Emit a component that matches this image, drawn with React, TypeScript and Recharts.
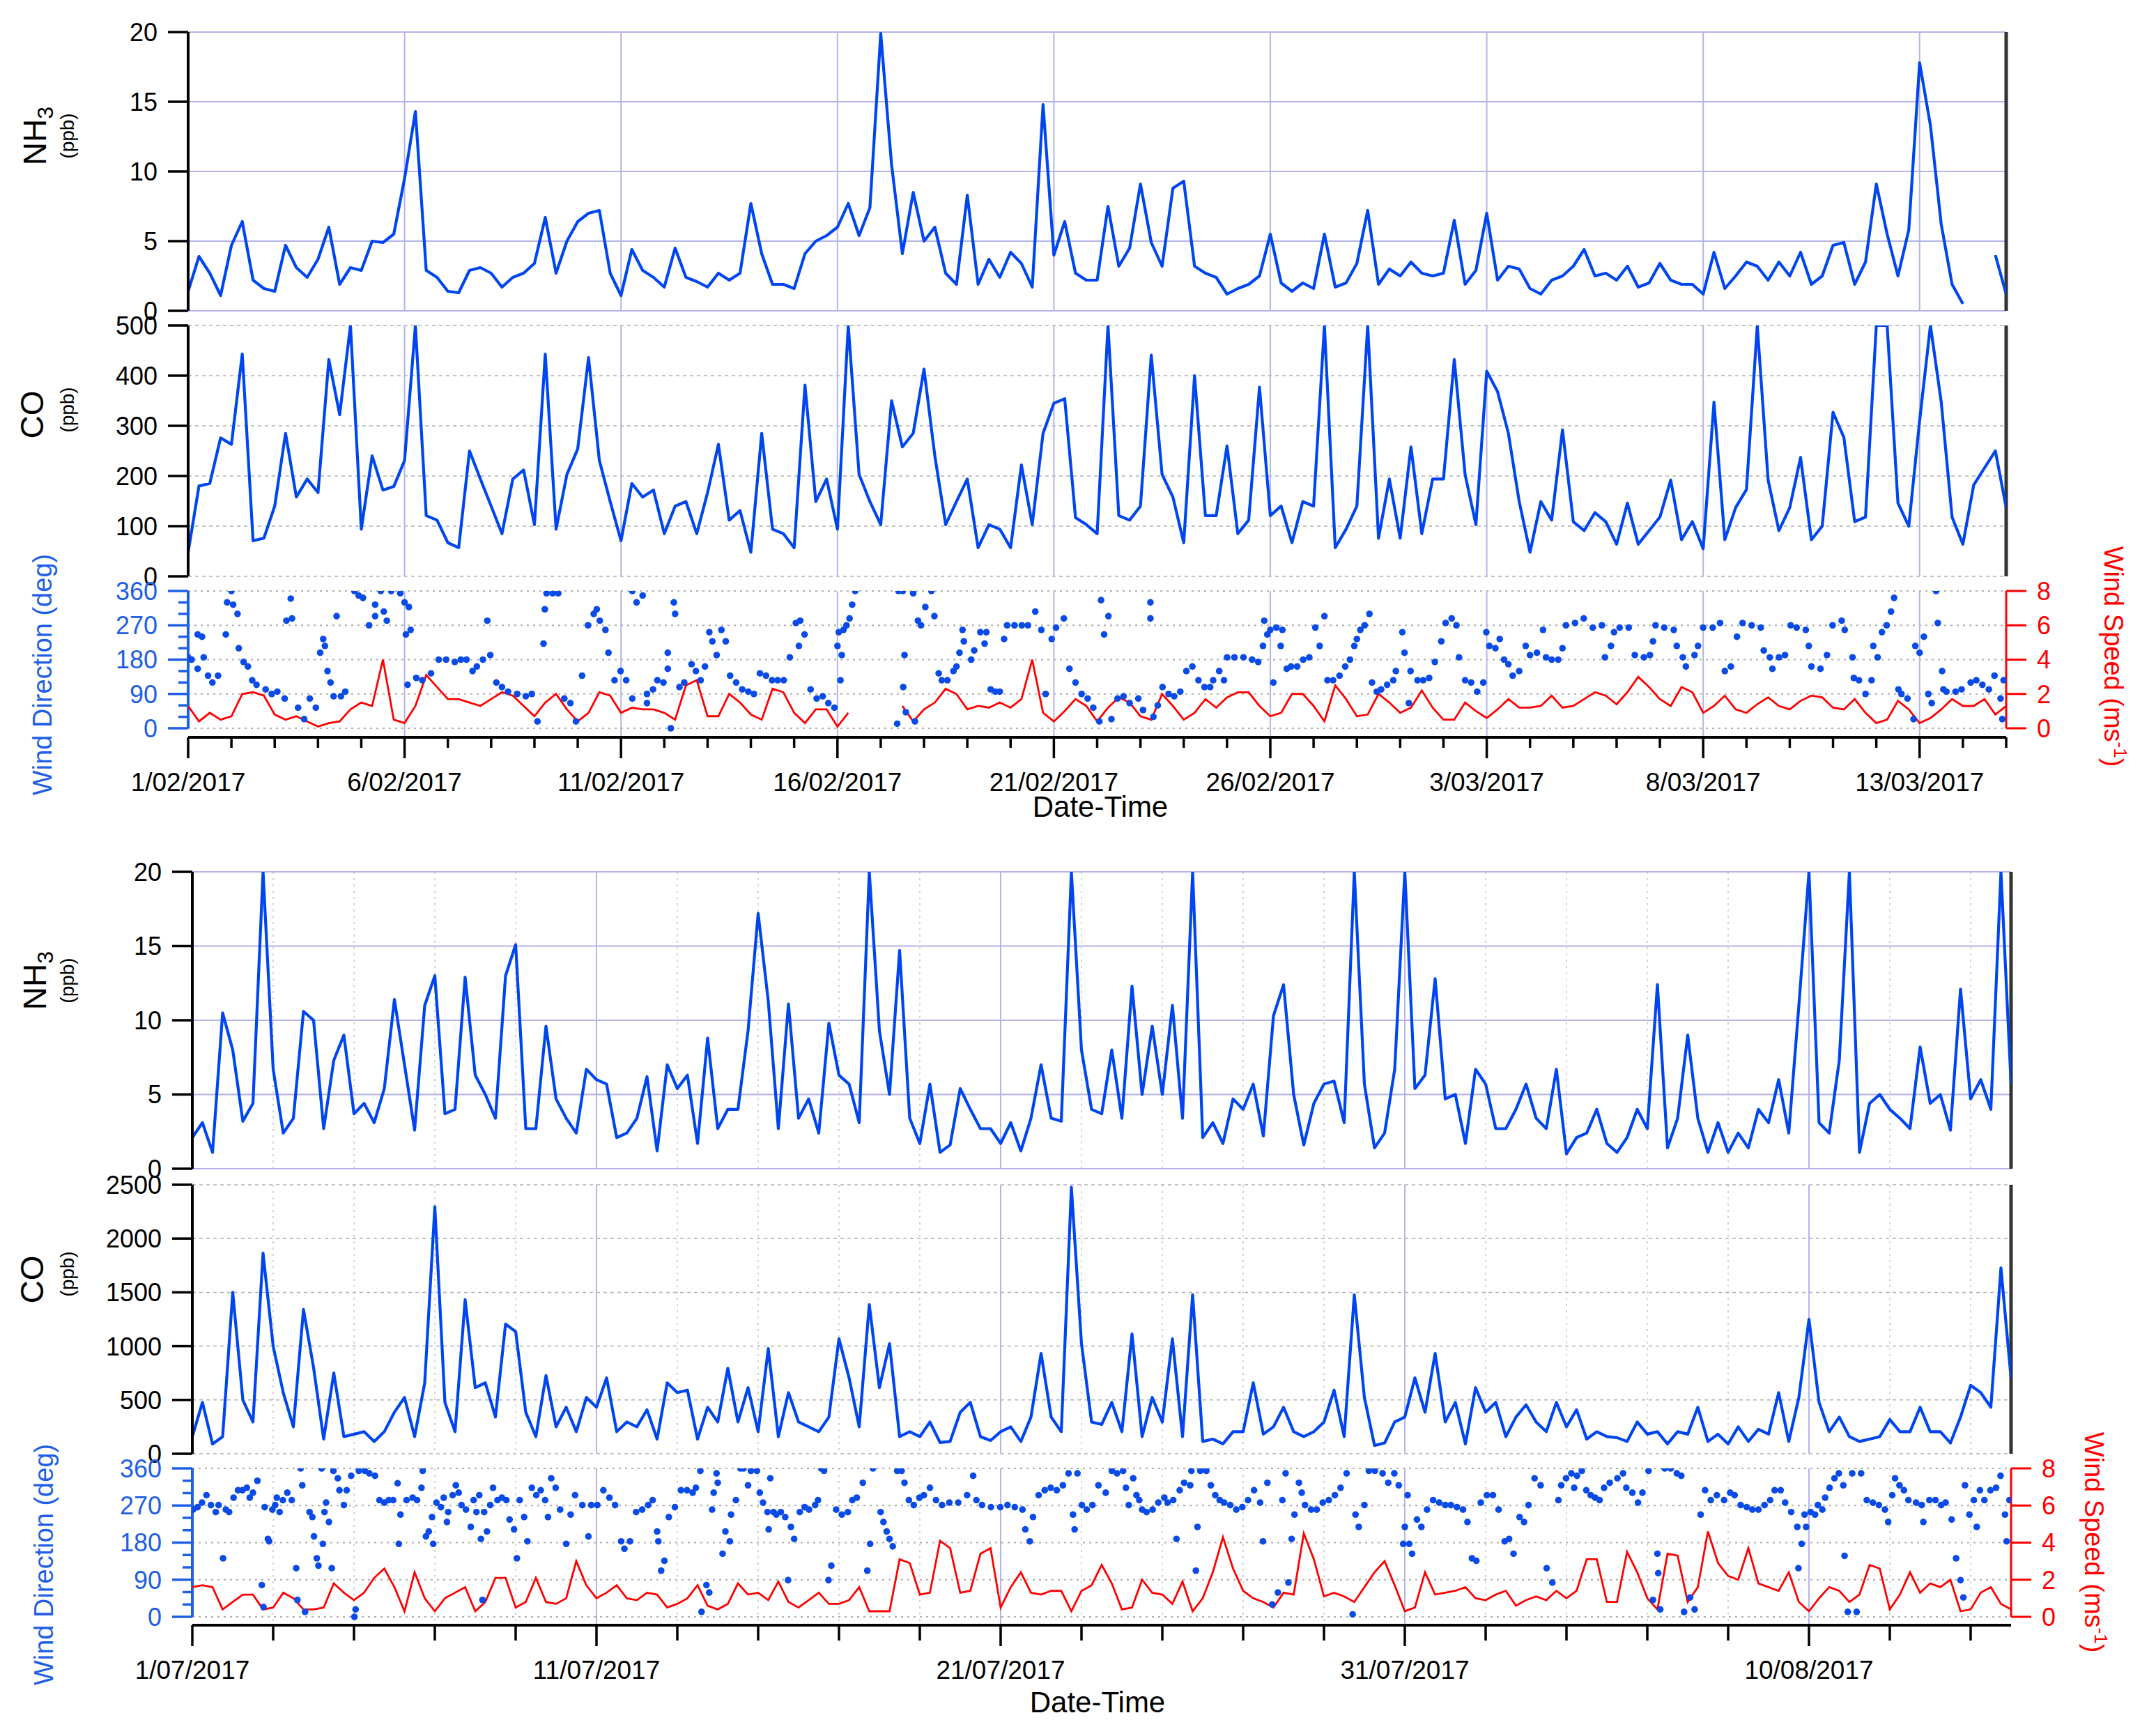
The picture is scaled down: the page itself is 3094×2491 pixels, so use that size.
import React from 'react';
import { ComposedChart, LineChart, Line, Scatter, XAxis, YAxis, CartesianGrid, ReferenceLine } from 'recharts';

// readings every 6 h, day 0 = first day on the axis
const STEP = 0.25;

const FEB_NH3 = [
  1.4, 3.9, 2.7, 1.1, 4.7, 6.4, 2.2, 1.6,
  1.4, 4.7, 3.1, 2.4, 3.7, 6.0, 1.9, 3.1,
  2.9, 5.0, 4.9, 5.5, 9.5, 14.3, 2.9, 2.4,
  1.4, 1.3, 2.9, 3.1, 2.7, 1.7, 2.4, 2.7,
  3.4, 6.7, 2.7, 5.0, 6.4, 7.0, 7.2, 2.7,
  1.1, 4.4, 2.9, 2.4, 1.7, 4.5, 2.4, 2.1,
  1.7, 2.7, 2.2, 2.7, 7.7, 4.1, 1.9, 1.9,
  1.6, 4.1, 5.0, 5.4, 6.0, 7.7, 5.4, 7.4,
  19.9, 10.5, 4.1, 8.5, 5.0, 6.0, 2.7, 1.9,
  8.3, 1.9, 3.7, 2.4, 4.2, 3.4, 1.7, 14.8,
  4.0, 6.4, 2.7, 2.2, 2.2, 7.5, 3.2, 4.5,
  9.1, 4.9, 3.2, 8.8, 9.3, 3.2, 2.7, 2.4,
  1.2, 1.6, 1.9, 2.5, 5.5, 2.0, 1.4, 2.0,
  1.6, 5.5, 1.7, 2.0, 3.4, 7.2, 1.9, 3.0,
  2.5, 3.5, 2.7, 2.5, 2.7, 6.5, 1.9, 2.9,
  7.0, 2.2, 3.2, 3.0, 1.6, 1.2, 2.2, 2.5,
  3.2, 4.4, 2.5, 2.7, 2.2, 3.2, 1.7, 2.0,
  3.4, 2.2, 1.9, 1.9, 1.2, 4.2, 1.6, 2.5,
  3.5, 3.2, 2.2, 3.5, 2.5, 4.2, 1.9, 2.5,
  4.7, 4.9, 1.9, 3.5, 9.1, 5.5, 2.5, 5.8,
  17.8, 13.3, 6.2, 1.9, 0.5, null, null, 4.0,
  1.2,
];

const FEB_CO = [
  48, 180, 185, 276, 263, 443, 71, 76,
  140, 285, 158, 194, 167, 432, 322, 500,
  94, 240, 172, 179, 231, 500, 121, 112,
  67, 57, 250, 194, 140, 85, 194, 212,
  103, 443, 94, 203, 254, 436, 231, 149,
  71, 185, 158, 172, 85, 140, 149, 85,
  167, 263, 112, 131, 48, 285, 94, 85,
  57, 381, 149, 194, 94, 500, 203, 149,
  103, 350, 258, 285, 413, 240, 103, 149,
  194, 57, 103, 94, 57, 222, 103, 285,
  345, 354, 117, 103, 85, 500, 121, 112,
  140, 441, 203, 158, 67, 400, 121, 121,
  260, 85, 112, 377, 121, 140, 67, 149,
  140, 500, 57, 94, 140, 500, 76, 194,
  76, 258, 85, 194, 194, 432, 203, 103,
  409, 368, 285, 149, 48, 149, 112, 292,
  109, 91, 127, 109, 64, 146, 64, 91,
  118, 192, 73, 109, 55, 347, 73, 137,
  173, 500, 192, 91, 137, 237, 73, 100,
  327, 277, 109, 118, 500, 500, 146, 100,
  310, 500, 347, 118, 64, 182, null, 250,
  137,
];

const FEB_WS = [
  1.3, 0.4, 0.9, 0.5, 0.7, 2.0, 2.1, 1.9,
  0.8, 0.5, 0.7, 0.4, 0.1, 0.3, 0.4, 1.1,
  1.5, 1.3, 4.0, 0.5, 0.3, 1.3, 3.1, 2.4,
  1.7, 1.7, 1.5, 1.3, 1.7, 2.1, 1.9, 1.3,
  0.7, 1.5, 2.0, 1.1, 0.4, 0.9, 2.1, 1.9,
  0.9, 1.2, 1.1, 1.1, 0.9, 0.5, 2.5, 2.8,
  0.7, 0.7, 2.0, 1.5, 0.8, 0.5, 2.3, 2.1,
  0.9, 0.3, 1.1, 1.1, 0.1, 0.9, null, null,
  null, null, 1.3, 0.4, 1.1, 1.5, 2.3, 2.0,
  1.1, 1.3, 1.2, 1.5, 1.2, 1.7, 4.0, 0.9,
  0.4, 1.0, 1.7, 1.3, 0.4, 1.2, 1.8, 1.5,
  0.7, 0.5, 2.0, 1.3, 0.5, 0.9, 1.7, 1.2,
  1.8, 2.1, 2.1, 1.3, 0.7, 0.9, 2.0, 2.0,
  1.3, 0.4, 2.5, 1.7, 0.7, 0.8, 2.0, 1.5,
  0.9, 1.2, 2.2, 1.2, 0.5, 0.5, 1.5, 1.0,
  0.6, 1.1, 1.7, 1.2, 1.2, 1.3, 1.9, 1.2,
  1.3, 1.7, 2.1, 1.9, 1.4, 2.1, 3.0, 2.4,
  1.7, 1.3, 2.4, 2.1, 0.9, 1.3, 1.9, 1.1,
  0.9, 1.4, 1.8, 1.3, 1.1, 1.6, 1.9, 1.8,
  1.2, 1.1, 1.7, 0.9, 0.3, 0.5, 1.6, 1.1,
  0.3, 0.6, 1.1, 1.7, 1.3, 1.3, 1.7, 0.8,
  1.3,
];

// [day, degrees]
const FEB_WD = [
  [0.0, 186], [0.08, 180], [0.22, 246], [0.22, 156], [0.32, 240], [0.36, 186], [0.46, 138], [0.56, 120], [0.69, 138], [0.87, 246],
  [0.9, 330], [1.0, 360], [1.04, 324], [1.14, 300], [1.17, 210], [1.28, 174], [1.38, 162], [1.48, 126], [1.58, 114], [1.79, 102],
  [1.93, 90], [2.06, 96], [2.23, 78], [2.27, 282], [2.37, 340], [2.4, 288], [2.54, 54], [2.68, 24], [2.81, 78], [2.95, 54],
  [3.05, 198], [3.12, 234], [3.16, 216], [3.22, 150], [3.29, 120], [3.36, 84], [3.43, 294], [3.53, 84], [3.63, 96], [3.84, 360],
  [3.94, 348], [4.04, 342], [4.18, 270], [4.32, 324], [4.32, 294], [4.45, 360], [4.52, 306], [4.59, 282], [4.69, 360], [4.9, 354],
  [5.0, 330], [5.03, 246], [5.07, 114], [5.1, 318], [5.14, 258], [5.27, 132], [5.41, 126], [5.61, 144], [5.79, 180], [5.96, 180],
  [6.16, 174], [6.3, 180], [6.43, 180], [6.57, 150], [6.67, 162], [6.81, 180], [6.91, 282], [6.98, 192], [7.12, 120], [7.25, 108],
  [7.39, 96], [7.6, 90], [7.8, 84], [7.94, 90], [8.07, 18], [8.21, 222], [8.24, 312], [8.28, 354], [8.42, 354], [8.55, 354],
  [8.69, 78], [8.83, 66], [8.96, 18], [9.1, 138], [9.24, 270], [9.37, 300], [9.44, 312], [9.51, 282], [9.64, 258], [9.71, 198],
  [9.85, 126], [9.99, 150], [10.12, 126], [10.26, 360], [10.26, 78], [10.36, 330], [10.5, 348],
  [10.6, 66], [10.6, 90], [10.74, 102], [10.84, 126], [10.98, 120], [11.08, 156], [11.08, 198], [11.15, 0], [11.22, 330], [11.25, 300],
  [11.35, 108], [11.46, 120], [11.63, 168], [11.73, 150], [11.84, 126], [11.94, 162], [12.04, 252], [12.11, 228], [12.21, 192], [12.32, 258],
  [12.42, 228], [12.52, 138], [12.66, 120], [12.8, 102], [12.94, 96], [13.07, 90], [13.21, 144], [13.35, 138], [13.49, 126], [13.62, 126],
  [13.76, 126], [13.9, 186], [14.04, 276], [14.11, 216], [14.14, 282], [14.24, 246], [14.38, 102], [14.52, 78], [14.66, 84], [14.79, 66],
  [14.93, 54], [15.0, 216], [15.03, 252], [15.07, 126], [15.1, 192], [15.14, 258], [15.21, 270], [15.28, 288], [15.34, 324], [15.41, 360],
  [16.38, 12], [16.41, 360], [16.51, 360], [16.52, 108], [16.55, 192], [16.58, 42], [16.75, 354], [16.79, 18], [16.86, 282], [16.93, 270],
  [17.03, 318], [17.17, 360], [17.24, 294], [17.34, 144], [17.41, 126], [17.54, 126], [17.68, 150], [17.75, 162], [17.82, 198], [17.89, 258],
  [17.92, 228], [18.09, 180], [18.16, 204], [18.3, 252], [18.44, 252], [18.4, 222], [18.54, 102], [18.65, 96], [18.75, 96], [18.85, 234],
  [18.92, 270], [19.09, 270], [19.26, 270], [19.4, 270], [19.57, 306], [19.71, 258], [19.81, 90], [19.95, 234], [20.05, 264], [20.23, 288],
  [20.36, 156], [20.5, 120], [20.64, 90], [20.78, 78], [20.91, 54], [21.05, 18], [21.09, 336],
  [21.16, 246], [21.26, 294], [21.33, 24], [21.47, 78], [21.61, 84], [21.75, 66], [21.95, 78], [22.06, 48], [22.23, 330], [22.23, 288],
  [22.3, 30], [22.4, 60], [22.51, 108], [22.65, 90], [22.78, 84], [22.92, 96], [23.06, 150], [23.2, 162], [23.34, 126], [23.48, 108],
  [23.61, 108], [23.68, 126], [23.82, 150], [23.93, 126], [24.0, 186], [24.17, 186], [24.38, 186], [24.58, 180], [24.72, 174], [24.83, 216],
  [24.86, 282], [24.93, 246], [25.0, 258], [25.07, 120], [25.14, 264], [25.24, 216], [25.28, 258], [25.38, 156], [25.48, 162], [25.62, 162],
  [25.76, 180], [25.9, 186], [26.04, 264], [26.14, 216], [26.25, 294], [26.32, 126], [26.45, 126], [26.6, 138], [26.73, 162], [26.84, 180],
  [26.94, 216], [27.0, 234], [27.08, 258], [27.18, 270], [27.29, 300], [27.35, 120], [27.46, 96], [27.56, 102], [27.7, 114], [27.84, 126],
  [27.9, 150], [28.05, 252], [28.1, 198], [28.2, 66], [28.24, 150], [28.4, 126], [28.53, 126], [28.67, 132], [28.8, 174], [28.95, 228],
  [29.05, 276], [29.19, 288], [29.3, 270], [29.36, 186], [29.5, 126], [29.64, 120], [29.78, 96], [29.92, 120], [29.99, 252], [30.06, 216],
  [30.2, 210], [30.3, 234], [30.4, 180], [30.5, 168], [30.6, 138], [30.75, 150], [30.9, 216], [31.0, 192], [31.16, 198], [31.3, 258],
  [31.37, 186], [31.5, 180], [31.65, 180], [31.75, 210],
  [31.83, 270], [32.04, 276], [32.24, 288], [32.45, 264], [32.66, 270], [32.73, 186], [32.87, 216], [32.94, 252], [33.07, 264], [33.28, 264],
  [33.42, 192], [33.63, 186], [33.77, 192], [33.84, 228], [33.9, 270], [34.1, 264], [34.32, 258], [34.39, 216], [34.53, 186], [34.6, 162],
  [34.8, 192], [34.88, 216], [35.0, 264], [35.22, 264], [35.39, 276], [35.5, 150], [35.64, 162], [35.78, 240], [35.91, 276], [36.12, 270],
  [36.33, 264], [36.4, 204], [36.54, 186], [36.6, 156], [36.75, 186], [36.89, 192], [37.02, 270], [37.16, 264], [37.37, 258], [37.44, 216],
  [37.5, 162], [37.71, 156], [37.86, 192], [37.99, 270], [38.2, 282], [38.27, 258], [38.45, 186], [38.48, 132], [38.6, 126], [38.75, 90],
  [38.89, 126], [38.93, 216], [39.03, 186], [39.13, 252], [39.24, 270], [39.34, 306], [39.41, 342], [39.51, 102], [39.58, 90], [39.72, 78],
  [39.86, 24], [39.9, 216], [40.0, 198], [40.1, 240], [40.2, 90], [40.28, 66], [40.38, 360], [40.42, 276], [40.52, 150], [40.55, 102],
  [40.62, 96], [40.83, 96], [40.97, 102], [41.18, 120], [41.31, 126], [41.45, 114], [41.6, 102], [41.73, 138], [41.87, 78], [41.91, 24],
  [41.94, 126],
];

const JUL_NH3 = [
  2.1, 3.1, 1.1, 10.5, 8.0, 3.2, 4.4, 20,
  6.7, 2.4, 3.4, 10.6, 10.0, 2.7, 7.3, 9.0,
  3.7, 4.4, 3.1, 5.4, 11.4, 7.0, 2.6, 11.0,
  13.0, 3.7, 4.0, 12.9, 6.3, 5.0, 3.4, 13.0,
  15.1, 2.7, 2.7, 9.6, 4.7, 3.4, 2.4, 6.7,
  6.0, 5.7, 2.1, 2.4, 3.4, 6.2, 1.2, 7.0,
  5.4, 6.3, 1.7, 8.8, 2.7, 4.0, 4.0, 9.3,
  17.2, 11.3, 2.7, 11.1, 3.4, 4.7, 2.4, 9.8,
  6.3, 5.7, 3.1, 20, 9.3, 5.0, 14.7, 3.4,
  1.7, 5.7, 1.1, 1.6, 5.4, 4.0, 2.7, 2.7,
  1.7, 3.1, 1.2, 3.4, 7.0, 3.4, 3.2, 20,
  8.0, 4.0, 3.7, 8.0, 3.4, 12.3, 5.0, 9.6,
  5.0, 11.0, 3.4, 20, 2.1, 3.1, 1.7, 4.7,
  4.0, 5.7, 2.2, 10.3, 12.4, 5.0, 1.6, 4.4,
  5.7, 5.9, 3.1, 20, 5.7, 1.4, 2.4, 6.7,
  20, 5.4, 6.3, 12.8, 4.7, 5.0, 1.7, 6.7,
  5.7, 2.7, 2.7, 4.0, 5.7, 3.4, 2.7, 6.7,
  1.0, 2.1, 2.4, 4.0, 1.7, 1.1, 2.1, 4.0,
  2.7, 12.4, 1.4, 3.4, 9.0, 3.4, 1.1, 3.1,
  1.1, 2.4, 1.4, 4.0, 3.1, 6.0, 2.4, 11.0,
  20, 3.1, 2.4, 7.3, 20, 1.1, 4.4, 5.0,
  4.0, 3.4, 2.7, 8.2, 4.4, 5.0, 2.6, 12.1,
  4.7, 6.0, 4.0, 20,
  5.7,
];

const JUL_CO = [
  159, 477, 91, 159, 1500, 500, 295, 1864,
  1000, 568, 250, 1341, 800, 136, 750, 159,
  182, 205, 114, 205, 386, 523, 159, 659,
  2295, 477, 205, 1432, 614, 659, 341, 1205,
  1136, 386, 159, 727, 250, 432, 205, 523,
  432, 705, 205, 295, 250, 409, 136, 659,
  568, 591, 136, 432, 295, 795, 295, 614,
  205, 977, 159, 568, 295, 250, 205, 341,
  1068, 705, 250, 1386, 614, 1023, 159, 205,
  159, 295, 105, 114, 386, 477, 159, 123,
  205, 250, 114, 341, 932, 341, 205, 2477,
  1023, 295, 273, 477, 205, 1114, 159, 523,
  295, 1068, 159, 1477, 114, 136, 91, 205,
  205, 659, 182, 250, 432, 205, 159, 205,
  295, 591, 159, 1477, 523, 77, 100, 295,
  341, 705, 386, 932, 295, 477, 91, 614,
  386, 477, 159, 341, 455, 295, 205, 477,
  250, 409, 136, 205, 159, 150, 114, 295,
  182, 205, 91, 205, 182, 432, 114, 182,
  91, 250, 114, 227, 182, 568, 114, 523,
  1250, 477, 205, 341, 159, 114, 136, 159,
  318, 205, 205, 432, 205, 205, 100, 341,
  636, 568, 432, 1727,
  700,
];

const JUL_WS = [
  1.6, 1.7, 1.6, 0.4, 0.8, 1.2, 1.2, 0.4,
  0.5, 1.3, 1.0, 0.4, 0.4, 0.5, 1.8, 1.3,
  0.9, 1.3, 2.1, 2.6, 1.6, 0.3, 2.4, 1.0,
  0.3, 1.0, 1.3, 1.6, 0.3, 0.8, 2.1, 2.1,
  0.5, 0.8, 2.1, 0.8, 0.7, 1.0, 3.0, 1.7,
  1.0, 1.3, 1.7, 1.0, 0.9, 1.3, 1.2, 0.5,
  0.7, 1.0, 1.7, 0.6, 0.4, 0.7, 1.8, 1.2,
  1.3, 0.9, 1.9, 0.8, 0.5, 0.9, 1.3, 0.7,
  0.7, 0.9, 1.6, 0.3, 0.3, 0.3, 3.1, 2.9,
  1.2, 1.3, 4.1, 3.7, 1.3, 1.4, 3.4, 3.7,
  0.5, 1.6, 2.4, 1.3, 1.2, 1.4, 1.4, 0.3,
  1.4, 1.7, 2.8, 1.8, 0.4, 0.5, 2.0, 1.3,
  1.2, 0.7, 1.9, 0.3, 1.0, 2.4, 4.3, 2.6,
  1.4, 1.0, 0.8, 0.5, 1.3, 1.2, 4.5, 3.1,
  1.1, 1.3, 1.1, 0.8, 1.6, 2.4, 3.0, 1.7,
  0.3, 0.5, 2.4, 1.2, 1.3, 1.4, 1.6, 1.0,
  0.9, 1.2, 1.4, 0.6, 0.9, 1.1, 0.9, 1.4,
  1.0, 1.4, 3.1, 3.1, 0.8, 0.8, 3.5, 2.4,
  1.0, 0.4, 3.4, 3.3, 0.8, 1.6, 4.6, 2.9,
  2.2, 2.0, 3.7, 1.8, 1.6, 1.4, 2.4, 0.8,
  0.3, 1.0, 1.6, 1.4, 0.8, 1.2, 2.8, 2.6,
  0.4, 1.2, 2.4, 1.3, 1.8, 1.6, 2.0, 0.3,
  0.4, 1.3, 1.6, 0.7,
  0.4,
];

const JUL_WD = [
  [0.02, 260], [0.13, 266], [0.24, 277], [0.35, 295], [0.46, 271], [0.58, 254], [0.65, 271], [0.76, 142], [0.83, 260], [0.91, 254],
  [1.02, 289], [1.13, 307], [1.24, 307], [1.35, 313], [1.42, 289], [1.5, 301], [1.61, 330], [1.72, 77], [1.76, 24], [1.79, 266],
  [1.87, 189], [1.9, 183], [1.98, 260], [2.05, 271], [2.09, 289], [2.16, 254], [2.24, 283], [2.35, 301], [2.46, 283], [2.57, 118],
  [2.6, 41], [2.68, 360], [2.72, 319], [2.79, 12], [2.9, 254], [2.97, 242], [3.01, 195], [3.08, 142], [3.12, 124], [3.2, 360],
  [3.23, 177], [3.27, 254], [3.31, 277], [3.38, 230], [3.45, 118], [3.49, 354], [3.6, 336], [3.64, 307], [3.75, 271], [3.82, 307],
  [3.93, 342], [4.01, 0], [4.04, 18], [4.12, 354], [4.27, 354], [4.38, 348], [4.52, 342], [4.63, 283], [4.75, 277], [4.86, 283],
  [4.97, 283], [5.08, 324], [5.11, 177], [5.15, 248], [5.3, 283], [5.45, 289], [5.56, 283], [5.67, 313], [5.7, 354], [5.78, 195],
  [5.85, 207], [5.93, 242], [5.96, 177], [6.04, 277], [6.15, 266], [6.22, 289], [6.3, 230], [6.33, 254], [6.44, 295], [6.52, 319],
  [6.59, 301], [6.66, 271], [6.77, 260], [6.89, 218], [6.96, 283], [7.03, 254], [7.1, 295], [7.14, 189], [7.18, 41], [7.22, 254],
  [7.29, 207], [7.37, 271], [7.44, 313], [7.55, 283], [7.66, 289], [7.77, 283], [7.85, 236], [7.96, 212], [8.03, 142], [8.1, 283],
  [8.21, 242], [8.29, 183], [8.4, 313], [8.51, 295], [8.62, 307], [8.73, 283], [8.8, 242], [8.88, 336], [8.99, 313], [9.1, 260],
  [9.25, 177], [9.36, 248], [9.47, 295], [9.65, 271], [9.8, 195], [9.87, 271], [10.02, 271], [10.17, 307], [10.32, 289], [10.46, 271],
  [10.61, 183], [10.69, 165], [10.83, 183], [10.98, 254], [11.13, 260], [11.28, 271], [11.39, 283],
  [11.5, 207], [11.53, 183], [11.6, 112], [11.68, 136], [11.79, 242], [11.94, 266], [12.09, 307], [12.24, 307], [12.38, 301], [12.46, 313],
  [12.57, 354], [12.6, 12], [12.72, 77], [12.79, 59], [12.86, 260], [12.9, 301], [12.97, 348], [13.0, 325], [13.12, 153], [13.19, 207],
  [13.3, 183], [13.33, 248], [13.45, 283], [13.56, 360], [13.64, 360], [13.75, 319], [13.82, 354], [13.97, 354], [14.04, 301], [14.12, 277],
  [14.23, 254], [14.26, 212], [14.3, 336], [14.38, 254], [14.45, 248], [14.56, 254], [14.67, 242], [14.74, 89], [14.81, 218], [14.89, 189],
  [15.03, 254], [15.15, 266], [15.26, 260], [15.41, 271], [15.48, 283], [15.56, 360], [15.63, 354], [15.74, 89], [15.81, 124], [15.93, 260],
  [16.07, 248], [16.22, 254], [16.33, 283], [16.44, 289], [16.59, 325], [16.7, 112], [16.77, 177], [16.84, 360], [17.03, 254], [17.1, 230],
  [17.18, 207], [17.25, 189], [17.33, 171], [17.44, 354], [17.55, 354], [17.62, 325], [17.73, 283], [17.85, 271], [17.99, 289], [18.1, 295],
  [18.25, 313], [18.4, 283], [18.55, 271], [18.73, 277], [18.95, 277], [19.17, 295], [19.32, 342], [19.4, 283], [19.54, 271], [19.76, 266],
  [19.99, 266], [20.17, 271], [20.35, 266], [20.54, 260], [20.61, 212], [20.72, 183], [20.8, 242], [20.94, 295], [21.09, 307], [21.24, 313],
  [21.39, 307], [21.54, 319], [21.68, 348], [21.79, 248], [21.83, 212], [21.9, 348], [22.01, 271], [22.13, 260], [22.27, 271], [22.42, 319],
  [22.6, 301], [22.75, 354],
  [22.88, 348], [23.03, 354], [23.1, 313], [23.17, 271], [23.28, 336], [23.36, 295], [23.43, 283], [23.5, 260], [23.61, 254], [23.76, 260],
  [23.9, 277], [24.05, 289], [24.13, 277], [24.27, 283], [24.35, 189], [24.43, 307], [24.54, 325], [24.69, 319], [24.72, 354], [24.83, 112],
  [24.87, 218], [24.94, 354], [25.09, 354], [25.2, 319], [25.31, 295], [25.42, 283], [25.53, 277], [25.68, 271], [25.83, 260], [25.98, 266],
  [26.12, 283], [26.27, 307], [26.42, 277], [26.49, 183], [26.6, 325], [26.72, 30], [26.86, 59], [26.97, 283], [27.05, 348], [27.12, 83],
  [27.2, 189], [27.27, 248], [27.38, 325], [27.45, 301], [27.53, 271], [27.68, 260], [27.82, 260], [27.97, 277], [28.12, 283], [28.27, 295],
  [28.41, 313], [28.56, 348], [28.71, 6], [28.78, 248], [28.86, 218], [29.0, 271], [29.11, 354], [29.26, 354], [29.45, 348], [29.59, 325],
  [29.74, 348], [29.85, 319], [29.96, 177], [30.0, 218], [30.07, 295], [30.11, 177], [30.18, 153], [30.3, 236], [30.41, 218], [30.55, 260],
  [30.7, 283], [30.85, 277], [31.0, 271], [31.14, 271], [31.29, 266], [31.44, 260], [31.55, 230], [31.66, 142], [31.77, 136], [31.88, 277],
  [32.03, 295], [32.18, 295], [32.32, 260], [32.47, 183], [32.58, 189], [32.69, 153], [32.84, 242], [32.95, 230], [33.06, 271], [33.21, 336],
  [33.36, 319], [33.51, 118], [33.65, 83], [33.8, 283], [33.87, 319], [33.99, 336],
  [34.12, 348], [34.19, 313], [34.26, 342], [34.38, 354], [34.49, 307], [34.6, 295], [34.71, 289], [34.82, 283], [34.93, 313], [35.07, 325],
  [35.26, 336], [35.4, 348], [35.48, 313], [35.63, 301], [35.77, 277], [35.88, 301], [36.03, 354], [36.14, 41], [36.25, 153], [36.27, 106],
  [36.32, 18], [36.43, 360], [36.58, 360], [36.73, 348], [36.84, 342], [36.91, 12], [37.06, 47], [37.17, 18], [37.32, 248], [37.43, 307],
  [37.57, 283], [37.72, 295], [37.9, 283], [38.05, 301], [38.16, 295], [38.31, 271], [38.46, 266], [38.6, 260], [38.75, 260], [38.9, 271],
  [39.04, 283], [39.15, 307], [39.3, 307], [39.41, 277], [39.56, 254], [39.71, 218], [39.74, 118], [39.82, 177], [39.89, 248], [39.93, 218],
  [40.04, 254], [40.15, 248], [40.22, 271], [40.33, 260], [40.4, 289], [40.51, 313], [40.63, 336], [40.74, 348], [40.85, 319], [40.88, 148],
  [40.96, 12], [41.07, 348], [41.18, 12], [41.29, 348], [41.43, 283], [41.58, 277], [41.73, 271], [41.88, 260], [41.96, 230], [42.06, 295],
  [42.13, 336], [42.24, 319], [42.35, 307], [42.46, 283], [42.65, 277], [42.79, 271], [42.83, 230], [42.98, 283], [43.13, 283], [43.27, 271],
  [43.38, 277], [43.53, 236], [43.64, 142], [43.75, 89], [43.82, 47], [43.86, 319], [43.97, 248], [44.08, 283], [44.15, 218], [44.23, 307],
  [44.34, 283], [44.49, 307], [44.63, 313], [44.74, 342], [44.85, 248], [44.89, 183], [44.96, 283],
];

const NH3_TICKS = [0, 5, 10, 15, 20];
const FEB_CO_TICKS = [0, 100, 200, 300, 400, 500];
const JUL_CO_TICKS = [0, 500, 1000, 1500, 2000, 2500];
const DIR_TICKS = [0, 30, 60, 90, 120, 150, 180, 210, 240, 270, 300, 330, 360];
const DIR_GRID = [0, 90, 180, 270, 360];
const WS_TICKS = [0, 2, 4, 6, 8];
const FEB_DATES = ['1/02/2017', '6/02/2017', '11/02/2017', '16/02/2017', '21/02/2017', '26/02/2017', '3/03/2017', '8/03/2017', '13/03/2017'];
const JUL_DATES = ['1/07/2017', '11/07/2017', '21/07/2017', '31/07/2017', '10/08/2017'];

const FONT = '"Liberation Sans", Arial, sans-serif';
const BLUE = '#0046f0';
const DOT_BLUE = '#0a4be8';
const AXIS_BLUE = '#1f5fe6';
const RED = '#ff0000';
const LAVENDER = '#b4b4ea';
const GREY = '#b0b0b0';

const YW = 260;
const RW = 140;
const PAD = 30;
const XH = 100;

const toRows = (vals: (number | null)[], key: string) => vals.map((v, i) => ({ d: i * STEP, [key]: v }));
const toDots = (pairs: number[][]) => pairs.map(([d, deg]) => ({ d, deg }));
const range = (a: number, b: number, s: number) => {
  const out: number[] = [];
  for (let v = a; v <= b; v += s) out.push(v);
  return out;
};

const leftTick = (color: string, every: number) => (p: any) => {
  const v = p.payload.value;
  const major = v % every === 0;
  return (
    <g>
      <line x1={p.x - (major ? 29 : 14)} x2={p.x} y1={p.y} y2={p.y} stroke={color} strokeWidth={3.5} />
      {major && (
        <text x={p.x - 44} y={p.y} dy="0.36em" textAnchor="end" fontSize={36} fill={color} fontFamily={FONT}>{v}</text>
      )}
    </g>
  );
};

const rightTick = (color: string) => (p: any) => (
  <g>
    <line x1={p.x} x2={p.x + 29} y1={p.y} y2={p.y} stroke={color} strokeWidth={3} />
    <text x={p.x + 44} y={p.y} dy="0.36em" textAnchor="start" fontSize={36} fill={color} fontFamily={FONT}>{p.payload.value}</text>
  </g>
);

const dateTick = (every: number, labels: string[], minorLen: number) => (p: any) => {
  const v = p.payload.value;
  const major = v % every === 0;
  return (
    <g>
      <line x1={p.x} x2={p.x} y1={p.y} y2={p.y + (major ? 30 : minorLen)} stroke="#000" strokeWidth={3.5} />
      {major && (
        <text x={p.x} y={p.y + 77} textAnchor="middle" fontSize={37} fill="#000" fontFamily={FONT}>{labels[v / every]}</text>
      )}
    </g>
  );
};

const dot = (p: any) => <circle cx={p.cx} cy={p.cy} r={4.8} fill={DOT_BLUE} />;

function SeriesPanel({ rows, x0, x1, y0, y1, xMax, yMax, yTicks, solid, majors, minors, connect }: any) {
  return (
    <div style={{ position: 'absolute', left: x0 - YW, top: y0 - PAD }}>
      <LineChart width={x1 - x0 + YW + 12} height={y1 - y0 + 2 * PAD} data={rows} margin={{ top: PAD, right: 12, bottom: PAD, left: 0 }}>
        <XAxis type="number" dataKey="d" domain={[0, xMax]} allowDataOverflow hide />
        <YAxis
          type="number"
          domain={[0, yMax]}
          allowDataOverflow
          ticks={yTicks}
          interval={0}
          width={YW}
          tickSize={0}
          tickMargin={0}
          tickLine={false}
          axisLine={{ stroke: '#000', strokeWidth: 4 }}
          tick={leftTick('#000', yTicks[1])}
        />
        {minors && <CartesianGrid horizontal={false} verticalValues={minors} stroke="#c8c8c8" strokeDasharray="3 6" strokeWidth={1.5} />}
        {solid ? (
          <CartesianGrid vertical={false} horizontalValues={yTicks} stroke={LAVENDER} strokeWidth={2} />
        ) : (
          <CartesianGrid vertical={false} horizontalValues={yTicks} stroke={GREY} strokeDasharray="5 5" strokeWidth={1.5} />
        )}
        <CartesianGrid horizontal={false} verticalValues={majors} stroke={LAVENDER} strokeWidth={2} />
        <ReferenceLine x={xMax} stroke="#333" strokeWidth={5} />
        <Line type="linear" dataKey="v" stroke={BLUE} strokeWidth={4.2} strokeLinejoin="round" dot={false} connectNulls={connect} isAnimationActive={false} />
      </LineChart>
    </div>
  );
}

function WindPanel({ dirRows, wsRows, x0, x1, yTop, yZero, yAxis, xMax, dayTicks, every, labels, minorLen, majors, minors }: any) {
  const span = yZero - yTop;
  const gap = yAxis - yZero;
  const dirMin = (-360 * gap) / span;
  const wsMin = (-8 * gap) / span;
  return (
    <div style={{ position: 'absolute', left: x0 - YW, top: yTop - PAD }}>
      <ComposedChart width={x1 - x0 + YW + RW} height={yAxis - yTop + PAD + XH} margin={{ top: PAD, right: 0, bottom: 0, left: 0 }}>
        <XAxis
          type="number"
          dataKey="d"
          domain={[0, xMax]}
          allowDataOverflow
          ticks={dayTicks}
          interval={0}
          height={XH}
          tickSize={0}
          tickMargin={0}
          tickLine={false}
          axisLine={{ stroke: '#000', strokeWidth: 4 }}
          tick={dateTick(every, labels, minorLen)}
        />
        <YAxis
          yAxisId="dir"
          type="number"
          dataKey="deg"
          domain={[dirMin, 360]}
          allowDataOverflow
          ticks={DIR_TICKS}
          interval={0}
          width={YW}
          tickSize={0}
          tickMargin={0}
          tickLine={false}
          axisLine={false}
          tick={leftTick(AXIS_BLUE, 90)}
        />
        <YAxis
          yAxisId="ws"
          orientation="right"
          type="number"
          dataKey="ws"
          domain={[wsMin, 8]}
          allowDataOverflow
          ticks={WS_TICKS}
          interval={0}
          width={RW}
          tickSize={0}
          tickMargin={0}
          tickLine={false}
          axisLine={false}
          tick={rightTick(RED)}
        />
        {minors && <CartesianGrid yAxisId="dir" horizontal={false} verticalValues={minors} stroke="#c8c8c8" strokeDasharray="3 6" strokeWidth={1.5} />}
        <CartesianGrid yAxisId="dir" vertical={false} horizontalValues={DIR_GRID} stroke={GREY} strokeDasharray="3 6" strokeWidth={2} />
        <CartesianGrid yAxisId="dir" horizontal={false} verticalValues={majors} stroke={LAVENDER} strokeWidth={2} />
        <ReferenceLine yAxisId="dir" segment={[{ x: 0, y: 0 }, { x: 0, y: 360 }]} stroke={AXIS_BLUE} strokeWidth={4} />
        <ReferenceLine yAxisId="ws" segment={[{ x: xMax, y: 0 }, { x: xMax, y: 8 }]} stroke={RED} strokeWidth={3} />
        <Scatter yAxisId="dir" data={dirRows} dataKey="deg" shape={dot} isAnimationActive={false} />
        <Line yAxisId="ws" type="linear" data={wsRows} dataKey="ws" stroke={RED} strokeWidth={2.8} dot={false} isAnimationActive={false} />
      </ComposedChart>
    </div>
  );
}

function Block({ cfg }: any) {
  const majors = range(cfg.every, cfg.xMax, cfg.every);
  const minors = cfg.minorGrid ? range(cfg.tickStep, cfg.xMax, cfg.tickStep).filter((v) => v % cfg.every !== 0) : null;
  const dayTicks = range(0, cfg.xMax, cfg.tickStep);
  return (
    <>
      <SeriesPanel rows={toRows(cfg.nh3, 'v')} x0={cfg.x0} x1={cfg.x1} y0={cfg.nh3Y[0]} y1={cfg.nh3Y[1]} xMax={cfg.xMax}
        yMax={20} yTicks={NH3_TICKS} solid majors={majors} minors={minors} connect={false} />
      <SeriesPanel rows={toRows(cfg.co, 'v')} x0={cfg.x0} x1={cfg.x1} y0={cfg.coY[0]} y1={cfg.coY[1]} xMax={cfg.xMax}
        yMax={cfg.coTicks[cfg.coTicks.length - 1]} yTicks={cfg.coTicks} solid={false} majors={majors} minors={minors} connect />
      <WindPanel dirRows={toDots(cfg.wd)} wsRows={toRows(cfg.ws, 'ws')} x0={cfg.x0} x1={cfg.x1} yTop={cfg.windY[0]} yZero={cfg.windY[1]}
        yAxis={cfg.windY[2]} xMax={cfg.xMax} dayTicks={dayTicks} every={cfg.every} labels={cfg.dates} minorLen={cfg.minorLen}
        majors={majors} minors={minors} />
    </>
  );
}

const FEB_BLOCK = {
  nh3: FEB_NH3, co: FEB_CO, ws: FEB_WS, wd: FEB_WD, dates: FEB_DATES, coTicks: FEB_CO_TICKS,
  x0: 270, x1: 2879, xMax: 42, every: 5, tickStep: 1, minorLen: 15, minorGrid: false,
  nh3Y: [46, 446], coY: [467, 827], windY: [848, 1045, 1058],
};
const JUL_BLOCK = {
  nh3: JUL_NH3, co: JUL_CO, ws: JUL_WS, wd: JUL_WD, dates: JUL_DATES, coTicks: JUL_CO_TICKS,
  x0: 276, x1: 2886, xMax: 45, every: 10, tickStep: 2, minorLen: 22, minorGrid: true,
  nh3Y: [1251, 1677], coY: [1700, 2086], windY: [2107, 2320, 2332],
};

function Titles() {
  const rot = (x: number, y: number, a: number) => `translate(${x},${y}) rotate(${a})`;
  return (
    <svg width={3094} height={2491} style={{ position: 'absolute', left: 0, top: 0, pointerEvents: 'none' }} fontFamily={FONT}>
      <text transform={rot(66, 195, -90)} textAnchor="middle" fontSize={46}>NH<tspan fontSize={32} dy={10}>3</tspan></text>
      <text transform={rot(106, 195, -90)} textAnchor="middle" fontSize={28}>(ppb)</text>
      <text transform={rot(62, 595, -90)} textAnchor="middle" fontSize={46}>CO</text>
      <text transform={rot(106, 588, -90)} textAnchor="middle" fontSize={28}>(ppb)</text>
      <text transform={rot(74, 968, -90)} textAnchor="middle" fontSize={38} fill={AXIS_BLUE}>Wind Direction (deg)</text>
      <text transform={rot(3020, 942, 90)} textAnchor="middle" fontSize={38} fill={RED}>
        Wind Speed (ms<tspan fontSize={26} dy={-14}>-1</tspan><tspan dy={14}>)</tspan>
      </text>
      <text x={1579} y={1172} textAnchor="middle" fontSize={42}>Date-Time</text>

      <text transform={rot(66, 1407, -90)} textAnchor="middle" fontSize={46}>NH<tspan fontSize={32} dy={10}>3</tspan></text>
      <text transform={rot(106, 1407, -90)} textAnchor="middle" fontSize={28}>(ppb)</text>
      <text transform={rot(62, 1836, -90)} textAnchor="middle" fontSize={46}>CO</text>
      <text transform={rot(106, 1828, -90)} textAnchor="middle" fontSize={28}>(ppb)</text>
      <text transform={rot(76, 2245, -90)} textAnchor="middle" fontSize={38} fill={AXIS_BLUE}>Wind Direction (deg)</text>
      <text transform={rot(2992, 2213, 90)} textAnchor="middle" fontSize={38} fill={RED}>
        Wind Speed (ms<tspan fontSize={26} dy={-14}>-1</tspan><tspan dy={14}>)</tspan>
      </text>
      <text x={1575} y={2457} textAnchor="middle" fontSize={42}>Date-Time</text>
    </svg>
  );
}

export default function App() {
  return (
    <div style={{ position: 'absolute', left: 0, top: 0, width: 3094, height: 2491, background: '#fff', fontFamily: FONT, overflow: 'hidden' }}>
      <Block cfg={FEB_BLOCK} />
      <Block cfg={JUL_BLOCK} />
      <Titles />
    </div>
  );
}
